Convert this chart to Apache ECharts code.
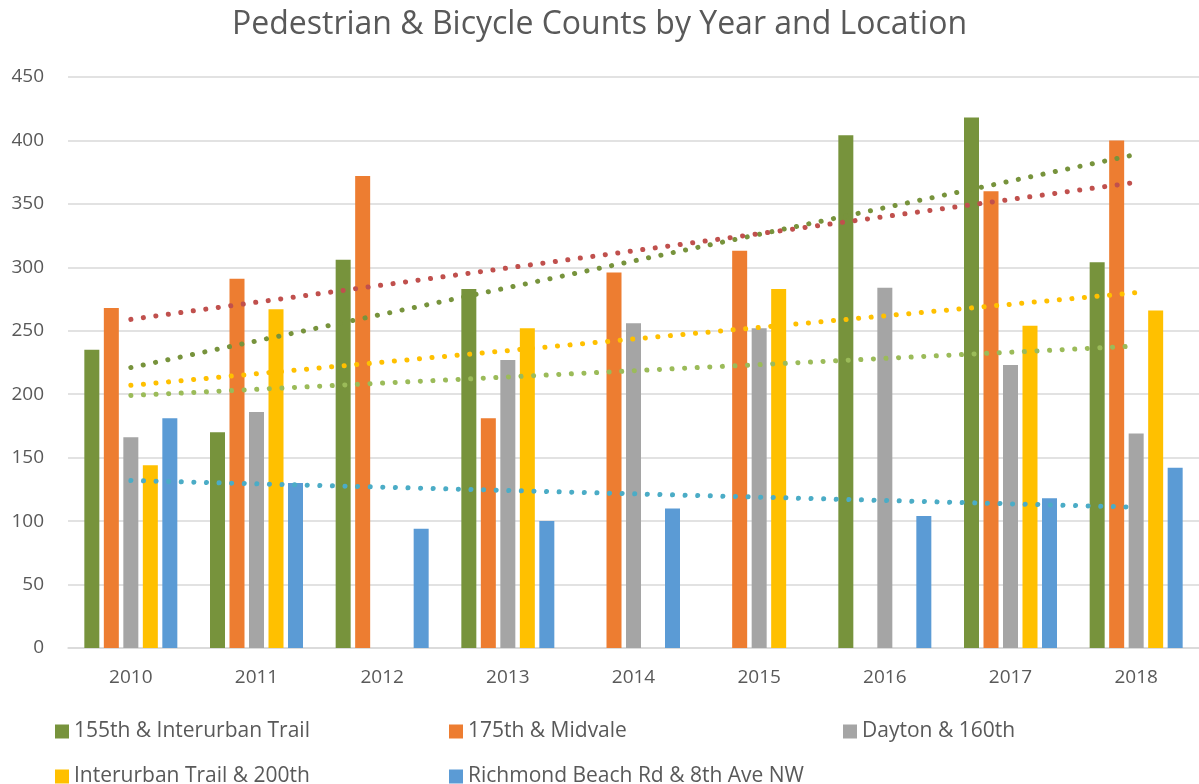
<!DOCTYPE html>
<html><head><meta charset="utf-8">
<script src="https://cdn.jsdelivr.net/npm/echarts@6/dist/echarts.min.js"></script>
<style>html,body{margin:0;padding:0;background:#fff}#c{width:1199px;height:784px}</style>
</head><body><div id="c"></div>
<script>
const years = ['2010','2011','2012','2013','2014','2015','2016','2017','2018'];
const yTicks = [0,50,100,150,200,250,300,350,400,450];
const seriesNames = ['155th & Interurban Trail','175th & Midvale','Dayton & 160th','Interurban Trail & 200th','Richmond Beach Rd & 8th Ave NW'];
const s155 = [235,170,306,283,null,null,404,418,304];
const s175 = [268,291,372,181,296,313,null,360,400];
const sDayton = [166,186,null,227,256,252,284,223,169];
const sInterurban = [144,267,null,252,null,283,null,254,266];
const sRichmond = [181,130,94,100,110,null,104,118,142];
// trendline endpoints (2010, 2018)
const t155 = [221,389];
const t175 = [259,367];
const tDayton = [199,238];
const tInterurban = [207,280];
const tRichmond = [132,111];

const barColors = ['#77933C','#ED7D31','#A5A5A5','#FFC000','#5B9BD5'];
const trendColors = ['#77933C','#C0504D','#9BBB59','#FFC000','#4BACC6'];
const barData = [s155,s175,sDayton,sInterurban,sRichmond];
const trendData = [t155,t175,tDayton,tInterurban,tRichmond];
const FONT = 'Open Sans';

function trendSeries(t){
  const arr = years.map(()=>null);
  arr[0]=t[0]; arr[arr.length-1]=t[1];
  return arr;
}
const series = [];
barData.forEach((d,i)=>{
  series.push({name:seriesNames[i],type:'bar',data:d,barWidth:15,barGap:'30%',
    itemStyle:{color:barColors[i]},z:2});
});
const trendOrder=[4,2,3,0,1];
trendOrder.forEach(i=>{
  series.push({name:'trend'+i,type:'line',data:trendSeries(trendData[i]),connectNulls:true,
    symbol:'none',silent:true,z:5,
    lineStyle:{color:trendColors[i],width:5,type:[0.1,12.5],cap:'round'}});
});
const legendPos=[[55,721],[449,721],[843,721],[55,766],[449,766]];
const legends = seriesNames.map((n,i)=>({data:[n],left:legendPos[i][0],top:legendPos[i][1],
  padding:0,itemWidth:14,itemHeight:14,itemGap:0,icon:'rect',
  textStyle:{fontFamily:FONT,fontSize:21,color:'#595959'}}));
const chart = echarts.init(document.getElementById('c'));
chart.setOption({
  animation:false,
  title:{text:'Pedestrian & Bicycle Counts by Year and Location',left:'center',top:4,
    textStyle:{fontFamily:FONT,fontSize:32,fontWeight:'normal',color:'#595959'}},
  legend:legends,
  grid:{left:68,top:77,width:1136,height:571},
  xAxis:{type:'category',data:years,axisTick:{show:false},
    axisLine:{lineStyle:{color:'#D9D9D9',width:1.5}},
    axisLabel:{fontFamily:FONT,fontSize:19,color:'#595959',margin:20}},
  yAxis:{type:'value',min:yTicks[0],max:yTicks[yTicks.length-1],interval:50,
    axisLine:{show:false},axisTick:{show:false},
    splitLine:{lineStyle:{color:'#D9D9D9',width:1.5}},
    axisLabel:{fontFamily:FONT,fontSize:19,color:'#595959',margin:24}},
  series:series
});
</script></body></html>
